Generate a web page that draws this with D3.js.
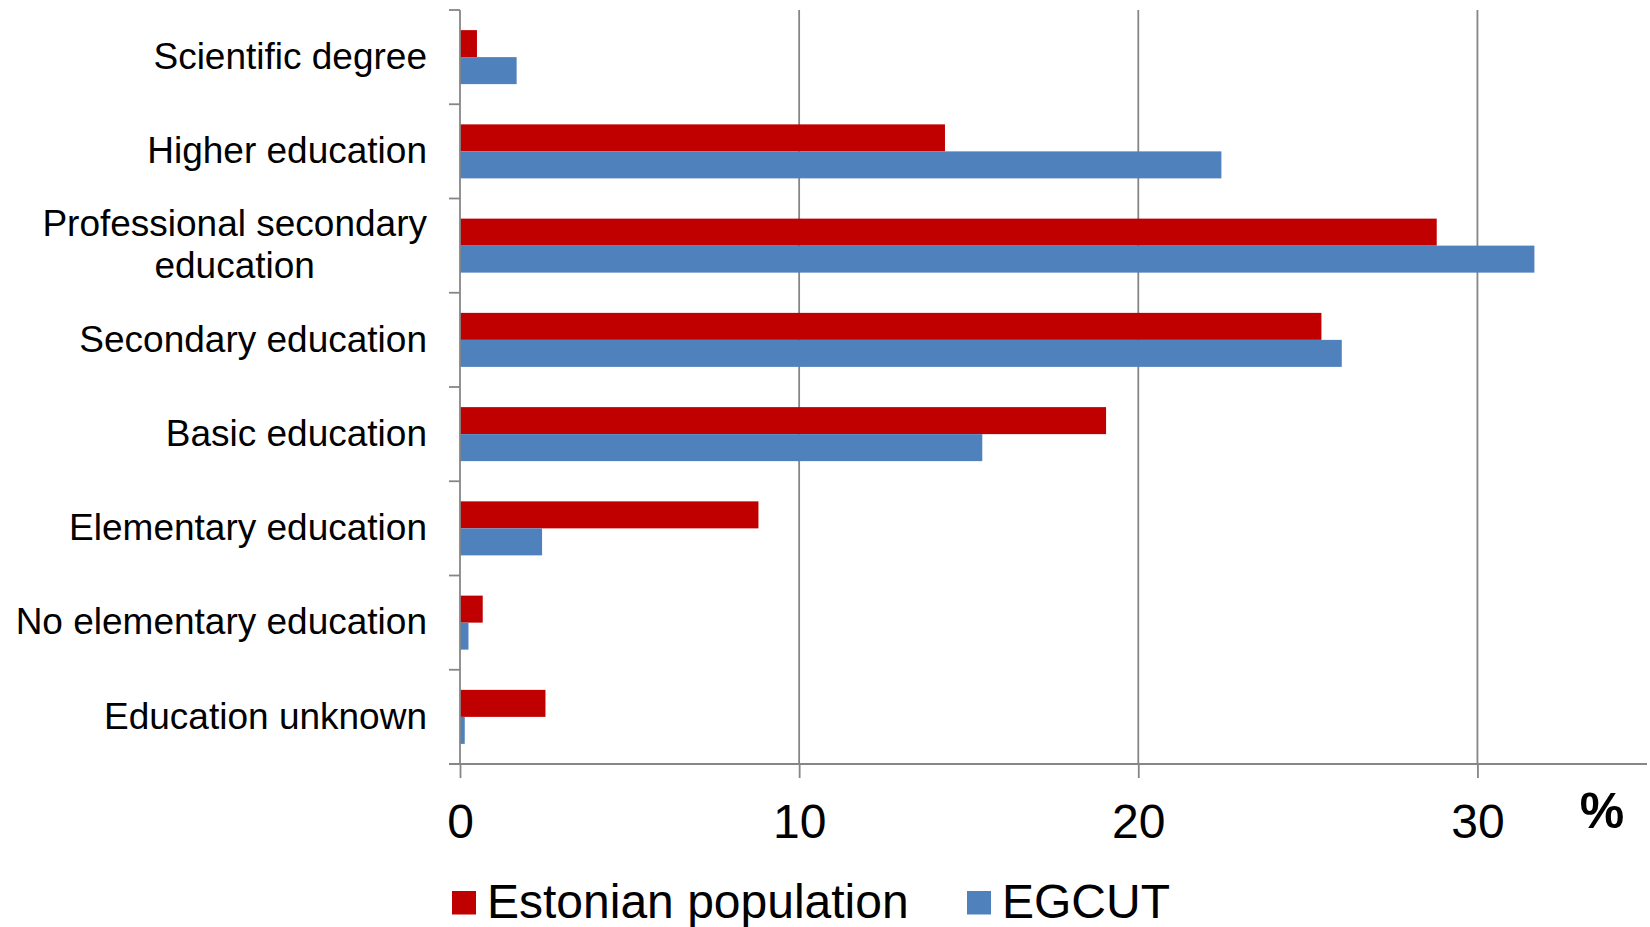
<!DOCTYPE html>
<html>
<head>
<meta charset="utf-8">
<script src="https://cdn.jsdelivr.net/npm/d3@7"></script>
<style>
  html, body { margin: 0; padding: 0; background: #ffffff; }
  svg { display: block; font-family: "Liberation Sans", Arial, sans-serif; }
</style>
</head>
<body>
<svg id="chart" width="1650" height="927"></svg>
<script>
const categories = [
  "Scientific degree",
  "Higher education",
  "Professional secondary education",
  "Secondary education",
  "Basic education",
  "Elementary education",
  "No elementary education",
  "Education unknown"
];
const seriesNames = ["Estonian population", "EGCUT"];
const estonianPopulation = [0.5, 14.3, 28.8, 25.4, 19.05, 8.8, 0.67, 2.52];
const egcut = [1.67, 22.45, 31.68, 26.0, 15.4, 2.42, 0.25, 0.14];
const xTicks = [0, 10, 20, 30];
const xMax = 35;
const unitLabel = "%";
const colors = ["#C00000", "#4F81BD"];

(function () {
const svg = d3.select("#chart");
const axisColor = "#868686";

const pLeft = 460, pRight = 1647, pTop = 10, pBottom = 764;

const x = d3.scaleLinear().domain([0, xMax]).range([pLeft, pRight]);
const yCell = d3.scaleBand().domain(categories).range([pTop, pBottom]).padding(0);
const ySub = d3.scaleBand().domain(seriesNames).range([0, yCell.bandwidth()])
  .paddingInner(0).paddingOuter(0.745);

const seriesValues = [estonianPopulation, egcut];

// gridlines
svg.append("g").selectAll("line")
  .data(xTicks.filter(t => t > 0))
  .join("line")
  .attr("x1", d => x(d)).attr("x2", d => x(d))
  .attr("y1", pTop).attr("y2", pBottom)
  .attr("stroke", axisColor).attr("stroke-width", 1.8);

// bars
const barG = svg.append("g");
seriesNames.forEach((s, si) => {
  barG.append("g").selectAll("rect")
    .data(categories.map((c, i) => ({ c, v: seriesValues[si][i] })))
    .join("rect")
    .attr("x", x(0))
    .attr("y", d => yCell(d.c) + ySub(s))
    .attr("width", d => x(d.v) - x(0))
    .attr("height", ySub.bandwidth())
    .attr("fill", colors[si]);
});

// x axis
const xAxis = d3.axisBottom(x).tickValues(xTicks).tickSize(14).tickFormat(d3.format("d"));
const xg = svg.append("g").attr("transform", `translate(0,${pBottom})`).call(xAxis);
xg.select(".domain").attr("stroke", axisColor).attr("stroke-width", 1.8)
  .attr("d", `M${pLeft - 11},0H${pRight}`);
xg.selectAll(".tick line").attr("stroke", axisColor).attr("stroke-width", 1.8);
xg.selectAll(".tick text")
  .attr("y", 73.5).attr("dy", null)
  .attr("font-size", 48).attr("fill", "#000")
  .attr("font-family", "Liberation Sans, Arial, sans-serif");

// y axis line and boundary ticks
svg.append("line")
  .attr("x1", pLeft).attr("x2", pLeft).attr("y1", pTop).attr("y2", pBottom)
  .attr("stroke", axisColor).attr("stroke-width", 1.8);
const boundaries = categories.map(c => yCell(c)).concat([yCell.range()[1]]);
svg.append("g").selectAll("line")
  .data(boundaries)
  .join("line")
  .attr("x1", pLeft - 11).attr("x2", pLeft)
  .attr("y1", d => d).attr("y2", d => d)
  .attr("stroke", axisColor).attr("stroke-width", 1.8);

// category labels
const labelRight = 427, maxW = 420, lineH = 42.3, fs = 37;
const labelG = svg.append("g").attr("font-size", fs).attr("fill", "#000");
const measure = svg.append("text").attr("font-size", fs).attr("visibility", "hidden");
function width(t) { measure.text(t); return measure.node().getComputedTextLength(); }
categories.forEach(c => {
  const words = c.split(" ");
  const lines = [];
  let cur = "";
  words.forEach(w => {
    const test = cur ? cur + " " + w : w;
    if (cur && width(test) > maxW) { lines.push(cur); cur = w; } else { cur = test; }
  });
  if (cur) lines.push(cur);
  const cy = yCell(c) + yCell.bandwidth() / 2;
  const n = lines.length;
  if (n === 1) {
    labelG.append("text").attr("x", labelRight).attr("y", cy + 11.7)
      .attr("text-anchor", "end").text(lines[0]);
  } else {
    const mw = d3.max(lines, width);
    const t = labelG.append("text").attr("text-anchor", "middle");
    lines.forEach((l, i) => {
      t.append("tspan").attr("x", labelRight - mw / 2)
        .attr("y", cy + 11.7 + (i - (n - 1) / 2) * lineH).text(l);
    });
  }
});
measure.remove();

// unit label
svg.append("text").attr("x", 1602).attr("y", 828).attr("text-anchor", "middle")
  .attr("font-size", 50).attr("font-weight", "bold").attr("fill", "#000").text(unitLabel);

// legend
const legendX = [452, 967];
const legend = svg.append("g");
seriesNames.forEach((s, i) => {
  legend.append("rect").attr("x", legendX[i]).attr("y", 891)
    .attr("width", 24).attr("height", 23.5).attr("fill", colors[i]);
  legend.append("text").attr("x", legendX[i] + 35).attr("y", 917.5)
    .attr("font-size", 48).attr("fill", "#000").text(s);
});
})();
</script>
</body>
</html>
